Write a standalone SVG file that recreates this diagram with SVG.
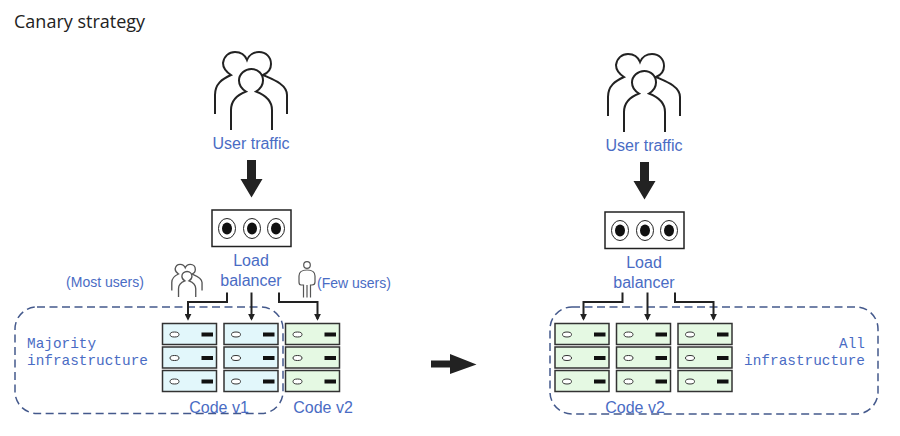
<svg xmlns="http://www.w3.org/2000/svg" width="900" height="436" viewBox="0 0 900 436">
<style>
.t{font-family:"Liberation Sans",Arial,sans-serif;font-size:16px;fill:#4a6cc4;text-anchor:middle}
.s{font-size:14px}
.m{font-family:"Liberation Mono","DejaVu Sans Mono",monospace;font-size:14.4px;fill:#4a6cc4}
.title{font-family:"Open Sans","Noto Sans",sans-serif;font-size:18px;fill:#222}
.dash{fill:none;stroke:#44598c;stroke-width:1.5;stroke-dasharray:8 4.5}
.c{fill:none;stroke:#222;stroke-width:2}
.p{fill:none;stroke:#222;stroke-width:2;stroke-linecap:butt}
</style>
<defs>
<marker id="a" markerWidth="7" markerHeight="7" refX="4.5" refY="3" orient="auto" markerUnits="userSpaceOnUse" viewBox="0 0 6 6"><path d="M0 0L6 3L0 6z" fill="#222"/></marker>
<g id="people">
<path d="M215 114V95C215 84 222 79 231 75C225 71 223 66 223 63C224 56 229 52 235 52C241 52 245 55 247 60C249 55 254 52 259 52C266 52 271 57 271 64C271 69 268 73 263 75C272 79 287 84 287 95V114" transform="translate(0,0)"/>
<path d="M239 80.5C239 74 245 69 251.300 69C258 69 263 74 263 80.500C263 85 261 88.500 256 91.500C265 95 272 100 272 110V130M239 80.500C239 85 241 88.500 246 91.500C237 95 231 100 231 110V130"/>
</g>
<g id="lb">
<rect x="212" y="210" width="79" height="36.500" fill="#fff" stroke="#222" stroke-width="1.500"/>
<g fill="#fff" stroke="#222" stroke-width="1"><ellipse cx="227" cy="228.500" rx="8.500" ry="10"/><ellipse cx="252" cy="228.500" rx="8.500" ry="10"/><ellipse cx="276" cy="228.500" rx="8.500" ry="10"/></g>
<g fill="#111"><ellipse cx="227" cy="228.500" rx="5" ry="6"/><ellipse cx="252" cy="228.500" rx="5" ry="6"/><ellipse cx="276" cy="228.500" rx="5" ry="6"/></g>
</g>
<g id="srvB"><rect width="54" height="21" fill="#e2f7fb" stroke="#333" stroke-width="1.500"/><ellipse cx="12" cy="11" rx="4.500" ry="2.500" fill="#fff" stroke="#333"/><rect x="39" y="9" width="11.500" height="4" fill="#111"/></g>
<g id="srvG"><rect width="54" height="21" fill="#e5f9e3" stroke="#333" stroke-width="1.500"/><ellipse cx="12" cy="11" rx="4.500" ry="2.500" fill="#fff" stroke="#333"/><rect x="39" y="9" width="11.500" height="4" fill="#111"/></g>
<g id="stackB"><use href="#srvB"/><use href="#srvB" y="23.500"/><use href="#srvB" y="47"/></g>
<g id="stackG"><use href="#srvG"/><use href="#srvG" y="23.500"/><use href="#srvG" y="47"/></g>
</defs>
<rect width="900" height="436" fill="#fff"/>
<text class="title" x="14" y="28">Canary strategy</text>

<g id="left-traffic"><use href="#people" class="p"/><text class="t" x="251" y="149">User traffic</text></g>
<g id="left-lb"><use href="#lb"/><text class="t" x="251" y="266">Load</text><text class="t" x="251" y="286">balancer</text></g>
<g id="most-users"><text class="t s" x="105" y="287">(Most users)</text>
<use href="#people" transform="translate(81.500,242.500) scale(.42)" style="fill:none;stroke:#555;stroke-width:3.200"/></g>
<g id="few-users"><text class="t s" x="354" y="288">(Few users)</text>
<g fill="none" stroke="#555" stroke-width="1.200"><circle cx="307" cy="265" r="3.300"/><path d="M303.500 297.500V285H301C299.500 285 299 284 299 282V276C299 272 302 270 307 270C312 270 315 272 315 276V282C315 284 314 285 312 285H310.500V297.500M307 285V297.500"/></g></g>
<g id="left-servers"><use href="#stackB" x="162.500" y="323.500"/><use href="#stackB" x="224" y="323.500"/><use href="#stackG" x="285.500" y="323.500"/></g>
<g id="left-zone"><rect class="dash" x="15" y="307" width="268" height="106.500" rx="22"/>
<text class="m" x="27" y="348">Majority</text><text class="m" x="27" y="365">infrastructure</text></g>
<text class="t" x="219" y="413">Code v1</text><text class="t" x="323" y="413">Code v2</text>

<g id="right-traffic"><use href="#people" class="p" transform="translate(393,2)"/><text class="t" x="644" y="151">User traffic</text></g>
<g id="right-lb"><use href="#lb" transform="translate(393,2)"/><text class="t" x="644" y="268">Load</text><text class="t" x="644" y="288">balancer</text></g>
<g id="right-servers"><use href="#stackG" x="555" y="323.500"/><use href="#stackG" x="616.500" y="323.500"/><use href="#stackG" x="678" y="323.500"/></g>
<g id="right-zone"><rect class="dash" x="550" y="307" width="328" height="107" rx="22"/>
<text class="m" x="865" y="348" text-anchor="end">All</text><text class="m" x="865" y="365" text-anchor="end">infrastructure</text></g>
<text class="t" x="635" y="413">Code v2</text>

<g id="connectors">
<path fill="#222" d="M247 160h9v19h6.500l-11 18.500l-11-18.500h6.500z"/>
<path fill="#222" d="M640 162h9v19h6.500l-11 18.500l-11-18.500h6.500z"/>
<path fill="#222" d="M431 360.500h19v-6.500l26.500 10.500l-26.500 9.500v-6.500h-19z"/>
<path class="c" d="M227 292.500V302H188V319" marker-end="url(#a)"/>
<path class="c" d="M251.500 292.500V319" marker-end="url(#a)"/>
<path class="c" d="M279 292.500V302H317.500V319" marker-end="url(#a)"/>
<path class="c" d="M622.500 292.500V302H583.500V319" marker-end="url(#a)"/>
<path class="c" d="M647.500 292.500V319" marker-end="url(#a)"/>
<path class="c" d="M675 292.500V302H713.500V319" marker-end="url(#a)"/>
</g>
</svg>
